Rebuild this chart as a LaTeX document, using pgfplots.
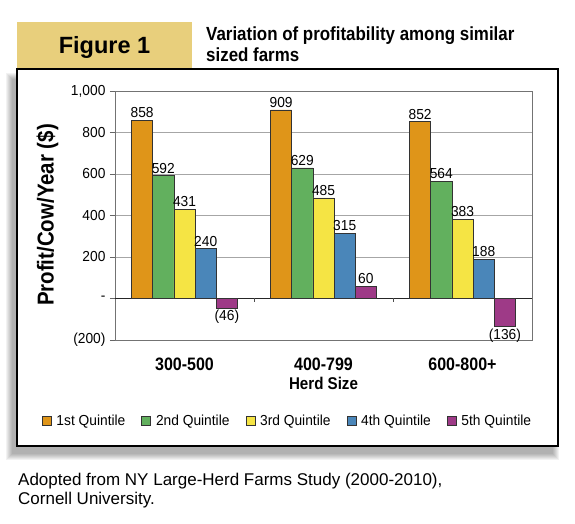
\documentclass[border=0pt]{standalone}
\usepackage{fontspec}
\setmainfont{Liberation Sans}
\newfontfamily\cond[FakeStretch=0.95]{Liberation Sans}
\newfontfamily\bcond[FakeStretch=0.89]{Liberation Sans Bold}
\usepackage{pgfplots}
\usepackage{pgfplotstable}
\pgfplotsset{compat=1.18}
\definecolor{qorange}{RGB}{223,149,25}
\definecolor{qgreen}{RGB}{98,176,94}
\definecolor{qyellow}{RGB}{245,228,68}
\definecolor{qblue}{RGB}{74,134,185}
\definecolor{qpurple}{RGB}{158,58,135}
\definecolor{tabgold}{RGB}{232,207,124}

\pgfplotstableread{
x y lab
0 858 858
1 909 909
2 852 852
}\qone
\pgfplotstableread{
x y lab
0 592 592
1 629 629
2 564 564
}\qtwo
\pgfplotstableread{
x y lab
0 431 431
1 485 485
2 383 383
}\qthree
\pgfplotstableread{
x y lab
0 240 240
1 315 315
2 188 188
}\qfour
\pgfplotstableread{
x y lab
0 -46 (46)
1 60 60
2 -136 (136)
}\qfive

\begin{document}
\begin{tikzpicture}[x=1pt,y=1pt]
% shadow
\foreach \r in {0,1,...,6}{
  \fill[black,opacity=0.05] (12-\r,70-\r) rectangle (553+\r,445+\r);
}
% frame
\fill[white] (17,78) rectangle (558,455);
\draw[black,line width=1.5pt] (17,78) rectangle (558,455);
% tab
\fill[tabgold] (17,455.7) rectangle (192,502);
\node[font=\bfseries\fontsize{23.5}{26}\selectfont,anchor=base] at (104.5,470) {Figure 1};
\node[font=\bcond\fontsize{19}{21}\selectfont,anchor=base west,inner sep=0pt] at (206,483) {Variation of profitability among similar};
\node[font=\bcond\fontsize{19}{21}\selectfont,anchor=base west,inner sep=0pt] at (206,462) {sized farms};
% caption
\node[font=\fontsize{17}{19}\selectfont,anchor=base west,inner sep=0pt] at (18,38) {Adopted from NY Large-Herd Farms Study (2000-2010),};
\node[font=\fontsize{17}{19}\selectfont,anchor=base west,inner sep=0pt] at (18,19) {Cornell University.};

\begin{axis}[
  at={(115pt,184pt)}, anchor=south west,
  scale only axis, width=417pt, height=249pt,
  ybar=0pt, bar width=21.2pt,
  xmin=-0.5, xmax=2.5, ymin=-200, ymax=1000,
  xtick={0,1,2}, xticklabels={300-500,400-799,600-800+},
  xtick style={draw=none},
  xticklabel style={font=\bcond\fontsize{18}{20}\selectfont, anchor=base, yshift=-26pt},
  ytick={-200,200,400,600,800,1000},
  yticklabels={(200),200,400,600,800,{1,000}},
  extra y ticks={0}, extra y tick labels={-},
  extra y tick style={grid style={black!85,line width=1.1pt}},
  ytick pos=left, tick align=outside, major tick length=5pt,
  yticklabel style={font=\cond\fontsize{14.5}{16}\selectfont, xshift=-1pt},
  ymajorgrids, grid style={black!35, line width=0.8pt},
  axis line style={black!55, line width=0.8pt},
  tick style={black!60, line width=0.8pt},
  xlabel={Herd Size},
  xlabel style={font=\bcond\fontsize{17}{19}\selectfont, at={(axis description cs:0.5,0)}, anchor=base, yshift=-50pt},
  ylabel={Profit/Cow/Year (\$)},
  ylabel style={font=\bcond\fontsize{23}{25}\selectfont, at={(axis description cs:-0.162,0.502)}, anchor=center},
  point meta=explicit symbolic,
  visualization depends on={y \as \rawy},
  nodes near coords,
  every node near coord/.append style={font=\cond\fontsize{14.5}{15}\selectfont, inner sep=2pt,
     anchor=\ifdim\rawy pt<0pt north\else south\fi},
  every axis plot/.append style={draw=black!80, line width=0.7pt},
  legend columns=5,
  legend style={at={(0.4137,-0.325)}, anchor=center, draw=none, fill=none,
    font=\cond\fontsize{14.5}{16}\selectfont,
    /tikz/every odd column/.append style={column sep=3pt},
    /tikz/every even column/.append style={column sep=14pt}},
  legend image code/.code={\draw[#1,draw=black!80,line width=0.6pt] (0pt,-4.5pt) rectangle (9pt,4.5pt);},
]
\addplot[fill=qorange] table[x=x,y=y,meta=lab] {\qone};
\addlegendentry{1st Quintile}
\addplot[fill=qgreen] table[x=x,y=y,meta=lab] {\qtwo};
\addlegendentry{2nd Quintile}
\addplot[fill=qyellow] table[x=x,y=y,meta=lab] {\qthree};
\addlegendentry{3rd Quintile}
\addplot[fill=qblue] table[x=x,y=y,meta=lab] {\qfour};
\addlegendentry{4th Quintile}
\addplot[fill=qpurple] table[x=x,y=y,meta=lab] {\qfive};
\addlegendentry{5th Quintile}
\draw[black!70,line width=0.8pt] (axis cs:0.5,0) -- ++(0pt,-4pt);
\draw[black!70,line width=0.8pt] (axis cs:1.5,0) -- ++(0pt,-4pt);
\end{axis}
\pgfresetboundingbox
\useasboundingbox (0,0) rectangle (575,524);
\end{tikzpicture}
\end{document}
